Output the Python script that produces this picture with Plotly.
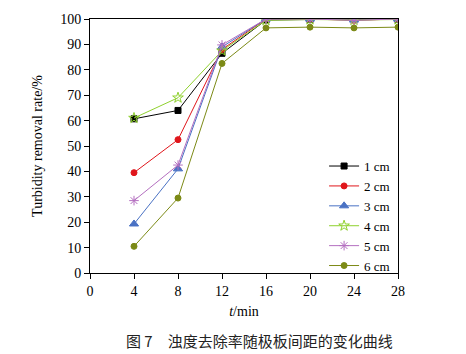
import plotly.graph_objects as go

time_min = [4, 8, 12, 16, 20, 24, 28]
series_names = ["1 cm", "2 cm", "3 cm", "4 cm", "5 cm", "6 cm"]
s1 = [60.7, 64.0, 86.5, 99.6, 99.8, 99.8, 99.8]
s2 = [39.5, 52.5, 88.0, 100.0, 100.0, 99.5, 100.0]
s3 = [19.3, 41.0, 89.0, 100.0, 100.0, 99.6, 100.0]
s4 = [61.0, 69.0, 87.5, 99.5, 99.8, 99.6, 99.8]
s5 = [28.5, 42.5, 89.8, 100.0, 100.0, 99.5, 100.0]
s6 = [10.5, 29.5, 82.5, 96.5, 96.8, 96.5, 96.8]
values = [s1, s2, s3, s4, s5, s6]

colors = ["#000000", "#e0161b", "#4a72c4", "#8fd12e", "#b46fc0", "#7c8a16"]
symbols = ["square", "circle", "triangle-up", "star-open", "asterisk-open", "circle"]
sizes = [6, 6, 8, 8, 8, 6]

fig = go.Figure()
for name, ys, c, sym, sz in zip(series_names, values, colors, symbols, sizes):
    fig.add_trace(go.Scatter(
        x=time_min, y=ys, name=name, mode="lines+markers",
        line=dict(color=c, width=1),
        marker=dict(symbol=sym, size=sz, color=c, line=dict(color=c, width=1)),
    ))

font = "Liberation Serif, Times New Roman, serif"
fig.update_layout(
    width=466, height=354,
    margin=dict(l=90, r=68, t=17, b=81),
    paper_bgcolor="white", plot_bgcolor="white",
    font=dict(family=font, size=14, color="black"),
    showlegend=True,
    legend=dict(x=0.76, y=0.48, xanchor="left", yanchor="top",
                bgcolor="rgba(0,0,0,0)", font=dict(size=13, family=font),
                itemwidth=30, tracegroupgap=0),
    xaxis=dict(range=[0, 28], tickvals=[0, 4, 8, 12, 16, 20, 24, 28],
               ticks="outside", ticklen=5, tickwidth=1, tickcolor="black",
               showline=True, linecolor="black", linewidth=1, mirror=True,
               showgrid=False, zeroline=False,
               tickfont=dict(size=14, family=font),
               title=dict(text="<i>t</i>/min", font=dict(size=14, family=font), standoff=8)),
    yaxis=dict(range=[0, 100], tickvals=list(range(0, 101, 10)),
               ticks="outside", ticklen=5, tickwidth=1, tickcolor="black",
               showline=True, linecolor="black", linewidth=1, mirror=True,
               showgrid=False, zeroline=False,
               tickfont=dict(size=14, family=font),
               title=dict(text="Turbidity removal rate/%", font=dict(size=14, family=font), standoff=14)),
)

fig.add_annotation(
    text="图 7　浊度去除率随极板间距的变化曲线",
    xref="paper", yref="paper", x=0.55, y=-0.215, xanchor="center", yanchor="top",
    showarrow=False, font=dict(size=15, family="Noto Sans CJK SC", color="#222"),
)

fig.write_html("out.html")
